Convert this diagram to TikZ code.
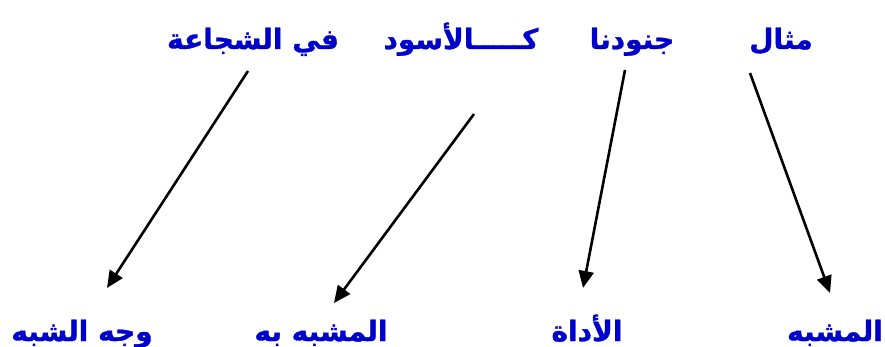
\documentclass[tikz,border=0pt]{standalone}
\usepackage{fontspec}
\usepackage{xcolor}
\usetikzlibrary{arrows.meta,calc}
\TeXXeTstate=1
\newfontfamily\arabicfont[Script=Arabic,BoldFeatures={FakeBold=1.2}]{DejaVu Sans}
\definecolor{wordblue}{RGB}{0,0,204}

\begin{document}
\begin{tikzpicture}[
    x = 1pt, y = -1pt,
    word/.style={
      font = \arabicfont\bfseries\fontsize{28}{32}\selectfont,
      text = wordblue,
      anchor = base,
      inner sep = 0pt,
    },
    link/.style={
      -{Triangle[length=17pt,width=15pt]},
      line width = 2.6pt,
    },
  ]
  \useasboundingbox (0,0) rectangle (885,347);
  \node[word] (mithal) at (781,49) {\beginR مثال\endR};
  \node[word] (junud) at (632,49) {\beginR جنودنا\endR};
  \node[word] (asad) at (461,49) {\beginR كـــــالأسود\endR};
  \node[word] (shajaa) at (253,49) {\beginR في الشجاعة\endR};
  \node[word] (mushabbah) at (835,341) {\beginR المشبه\endR};
  \node[word] (adah) at (587,341) {\beginR الأداة\endR};
  \node[word] (bih) at (321,341) {\beginR المشبه به\endR};
  \node[word] (wajh) at (82,341) {\beginR وجه الشبه\endR};
  \draw[link] ($(mithal.base)+(-31,24)$) -- ($(mushabbah.base)+(-5,-48)$);
  \draw[link] ($(junud.base)+(-7,21)$) -- ($(adah.base)+(-4,-53)$);
  \draw[link] ($(asad.base)+(13,65)$) -- ($(bih.base)+(13,-38)$);
  \draw[link] ($(shajaa.base)+(-5,22)$) -- ($(wajh.base)+(25,-53)$);
\end{tikzpicture}
\end{document}
